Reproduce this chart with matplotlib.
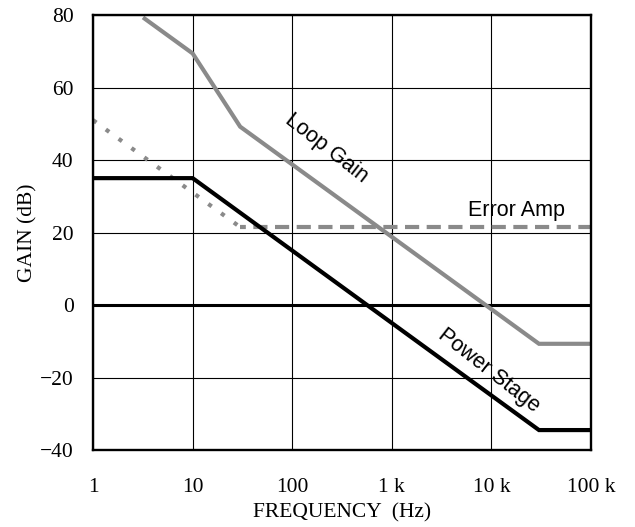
import matplotlib
matplotlib.use("Agg")
import matplotlib.pyplot as plt

# ---- data ----
power_f = [1, 10, 30000, 100000]
power_g = [35, 35, -34.5, -34.5]

loop_f = [3.3, 10, 30, 30000, 100000]
loop_g = [79, 69.4, 49.2, -10.7, -10.7]

err_slope_f = [1, 30]
err_slope_g = [51, 21.5]
err_flat_f = [30, 100000]
err_flat_g = [21.5, 21.5]

xticks = [1, 10, 100, 1000, 10000, 100000]
xticklabels = ["1", "10", "100", "1 k", "10 k", "100 k"]
yticks = [-40, -20, 0, 20, 40, 60, 80]

gray = "#8a8a8a"

fig = plt.figure(figsize=(6.35, 5.27), dpi=100)
ax = fig.add_axes([0.1465, 0.1461, 0.7843, 0.8254])

ax.set_xscale("log")
ax.set_xlim(1, 100000)
ax.set_ylim(-40, 80)

ax.set_xticks(xticks)
ax.set_xticklabels(xticklabels)
ax.set_yticks(yticks)
ax.minorticks_off()
ax.tick_params(axis="both", which="both", length=0)
ax.tick_params(axis="x", pad=20)
ax.tick_params(axis="y", pad=14)
for lab in ax.get_xticklabels() + ax.get_yticklabels():
    lab.set_fontfamily("Liberation Serif")
    lab.set_fontsize(15.5)

ax.grid(True, color="black", linewidth=0.8, zorder=0)
ax.set_axisbelow(True)
ax.axhline(0, color="black", linewidth=2.2, zorder=1)

for s in ax.spines.values():
    s.set_linewidth(1.7)
    s.set_zorder(5)

# Error amp
ax.plot(err_slope_f, err_slope_g, color=gray, linewidth=3.0,
        linestyle=(0, (1, 2.8)), dash_capstyle="butt", zorder=3)
ax.plot(err_flat_f, err_flat_g, color=gray, linewidth=3.0,
        linestyle=(2, (3.4, 1.8)), dash_capstyle="butt", zorder=3)

# Loop gain
ax.plot(loop_f, loop_g, color=gray, linewidth=3.0, solid_joinstyle="miter", zorder=3)

# Power stage
ax.plot(power_f, power_g, color="black", linewidth=3.0, solid_joinstyle="miter", zorder=4)

sans = "Liberation Sans"
ax.text(220, 43.3, "Loop Gain", rotation=-38, ha="center", va="center",
        fontsize=15.5, fontfamily=sans, zorder=6)
ax.text(17800, 26.2, "Error Amp", ha="center", va="center",
        fontsize=15.5, fontfamily=sans, zorder=6)
ax.text(9500, -18.2, "Power Stage", rotation=-38, ha="center", va="center",
        fontsize=15.5, fontfamily=sans, zorder=6)

ax.set_xlabel("FREQUENCY  (Hz)", fontfamily="Liberation Serif", fontsize=15.5, labelpad=5)
ax.set_ylabel("GAIN (dB)", fontfamily="Liberation Serif", fontsize=15.5, labelpad=2)

fig.savefig("out.png", dpi=100)
